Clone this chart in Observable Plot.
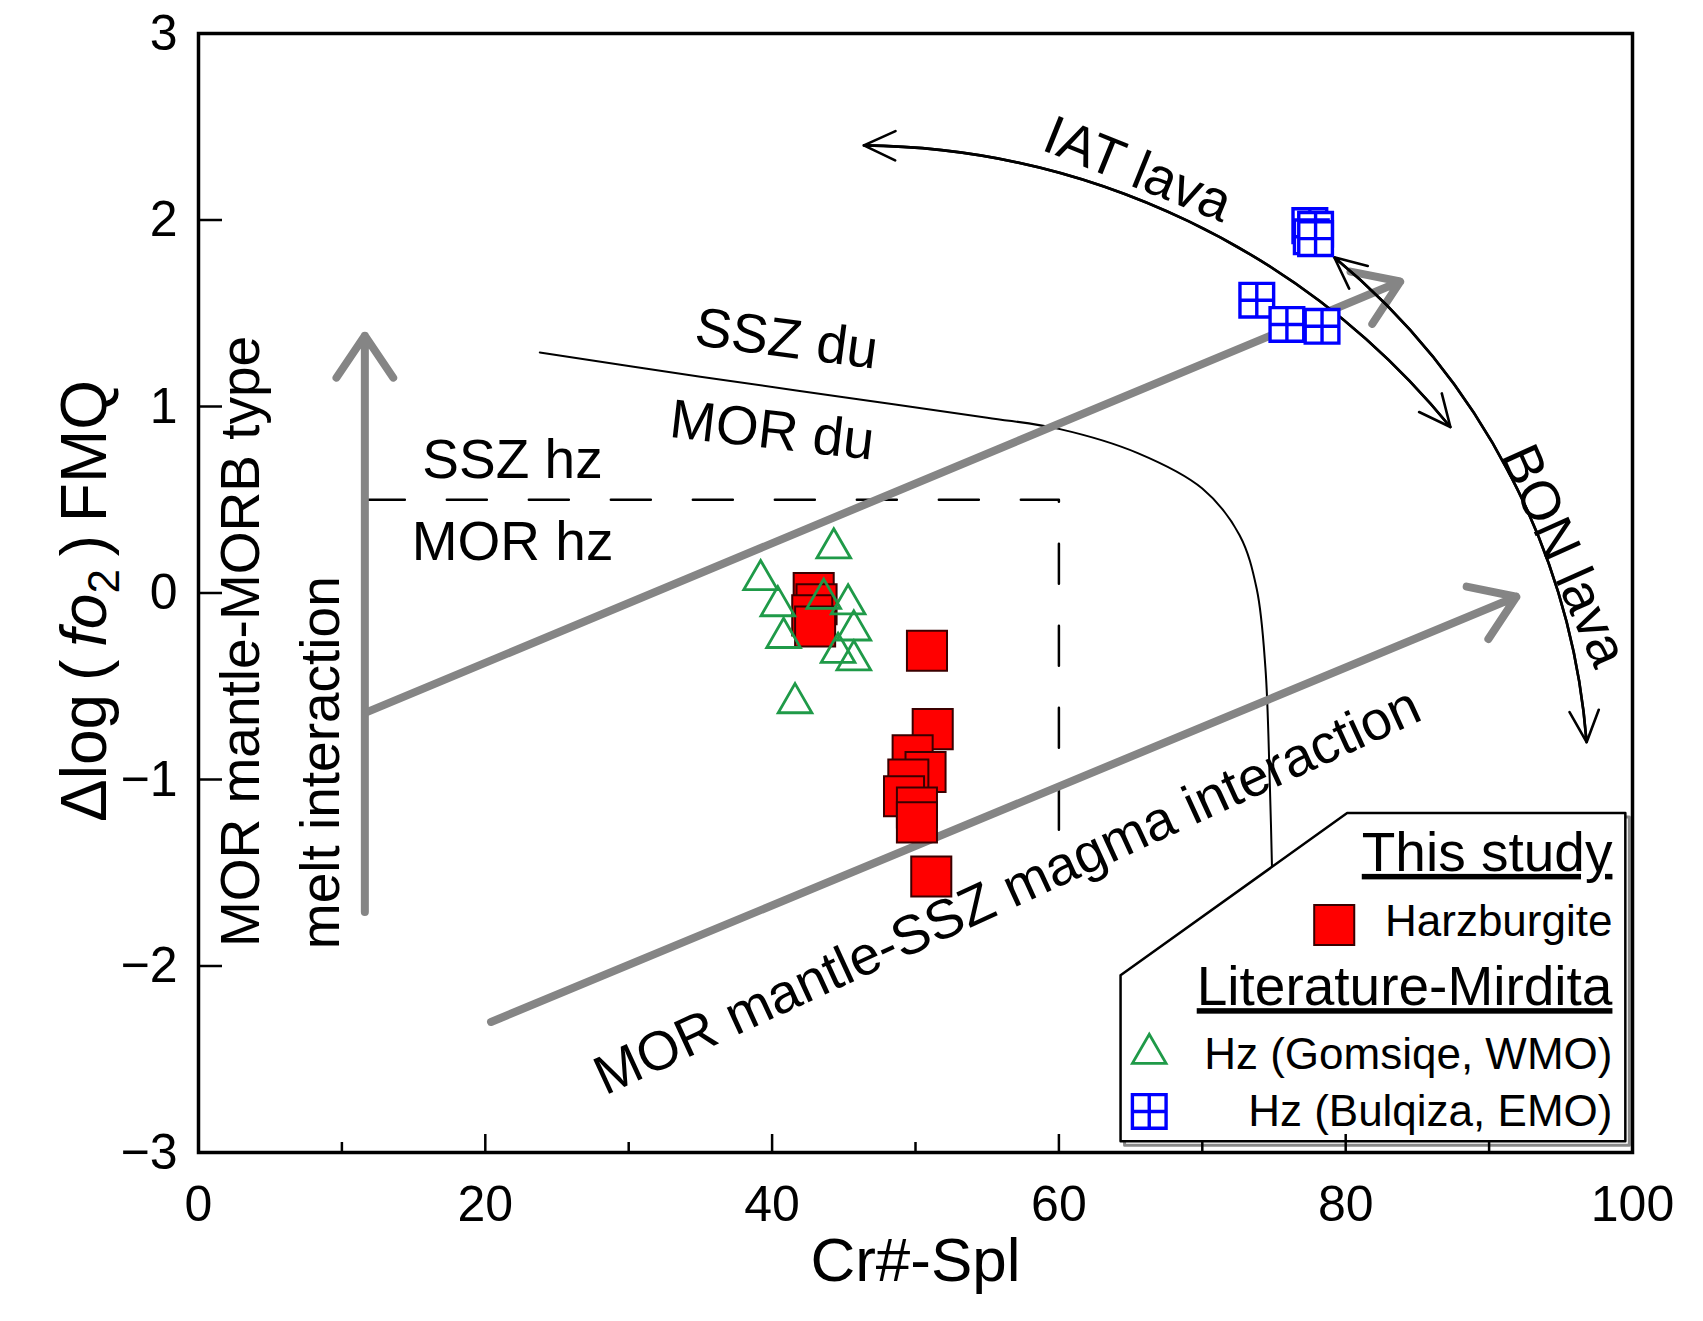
<!DOCTYPE html>
<html><head><meta charset="utf-8">
<script src="https://cdn.jsdelivr.net/npm/d3@7"></script>
<script src="https://cdn.jsdelivr.net/npm/@observablehq/plot@0.6"></script>
<style>body{margin:0;background:#fff} svg{display:block}</style>
</head><body><div id="chart"></div>
<script>
// ---- axes ----
const xTicks = [0, 20, 40, 60, 80, 100];
const xMajorInner = [20, 40, 60, 80];
const xMinorInner = [10, 30, 50, 70, 90];
const yTicks = [-3, -2, -1, 0, 1, 2, 3];
const yInner = [-2, -1, 0, 1, 2];
const xTitle = "Cr#-Spl";
const yTitle = "Δlog(fo₂)FMQ";

// ---- data: This study, harzburgite ----
const harzX = [42.9, 43.1, 42.8, 43.0, 50.8, 51.2, 49.8, 50.7, 49.5, 49.2, 50.1, 50.1, 51.1];
const harzY = [0.00, -0.06, -0.12, -0.18, -0.31, -0.73, -0.87, -0.96, -1.00, -1.09, -1.15, -1.23, -1.52];
// ---- Literature: Hz (Gomsiqe, WMO) ----
const gomX = [44.3, 39.2, 40.4, 43.6, 45.3, 45.7, 40.8, 44.6, 45.7, 41.6];
const gomY = [0.24, 0.07, -0.07, -0.03, -0.06, -0.20, -0.24, -0.32, -0.36, -0.59];
// ---- Literature: Hz (Bulqiza, EMO) ----
const bulX = [77.5, 77.9, 77.6, 77.9, 73.8, 75.9, 78.35];
const bulY = [1.97, 1.95, 1.91, 1.90, 1.57, 1.44, 1.43];

// ---- SSZ du / MOR du boundary ----
const duX = [23.8, 35, 45, 55, 60, 65.5, 70.0, 72.6, 73.8, 74.4, 74.7, 74.9];
const duY = [1.29, 1.16, 1.05, 0.94, 0.88, 0.75, 0.56, 0.31, 0.02, -0.40, -1.00, -1.60];
// ---- SSZ hz / MOR hz boundary (dashed) ----
const hzX = [11.6, 60, 60];
const hzY = [0.5, 0.5, -1.3];
// ---- interaction trends (gray arrows) ----
const trendX1 = [11.6, 11.7, 20.4];
const trendY1 = [-1.71, -0.64, -2.30];
const trendX2 = [11.6, 83.8, 91.9];
const trendY2 = [1.38, 1.67, -0.02];
// ---- lava arcs: IAT, BON ----
const iatArc = {x1: 46.4, y1: 2.40, x2: 87.3, y2: 0.89, bend: 25};
const bonArc = {x1: 79.2, y1: 1.80, x2: 96.8, y2: -0.80, bend: 23};

// ---- annotation labels ----
const labelText = ["IAT lava", "BON lava", "SSZ du", "MOR du", "SSZ hz", "MOR hz",
  "MOR mantle-MORB type", "melt interaction", "MOR mantle-SSZ magma interaction"];
const labelX = [65.5, 95.2, 41.0, 40.0, 21.9, 21.9, 3.0, 8.6, 56.4];
const labelY = [2.27, 0.20, 1.36, 0.87, 0.71, 0.27, -0.26, -0.91, -1.60];
const labelAngle = [22, 66, 7.5, 6.5, 0, 0, -90, -90, -24.7];

// ---- legend ----
const legendBoxX = [64.3, 80.1, 99.5, 99.5, 64.3, 64.3];
const legendBoxY = [-2.05, -1.18, -1.18, -2.94, -2.94, -2.05];
const legendHeads = ["This study", "Literature-Mirdita"];
const legendHeadY = [-1.49, -2.21];
const legendEntries = ["Harzburgite", "Hz (Gomsiqe, WMO)", "Hz (Bulqiza, EMO)"];
const legendEntryY = [-1.84, -2.55, -2.86];
const legendTextX = 98.6;
const legendMarkX = [79.2, 66.3, 66.3];
const legendMarkY = [-1.78, -2.47, -2.78];

const squarePlus = {
  draw(context, size) {
    const s = Math.sqrt(size) / 2;
    context.moveTo(-s, -s); context.lineTo(s, -s); context.lineTo(s, s); context.lineTo(-s, s); context.closePath();
    context.moveTo(-s, 0); context.lineTo(s, 0);
    context.moveTo(0, -s); context.lineTo(0, s);
  }
};

const FONT = "'Liberation Sans', Arial, Helvetica, sans-serif";
const RED = "#ff0000", GREEN = "#1f9a48", BLUE = "#0000ff", GRAY = "#858585";

const idx = (a) => d3.range(a.length);

function lavaArrows(a) {
  const style = {stroke: "black", strokeWidth: 2.6, headLength: 20, headAngle: 50, strokeLinejoin: "miter"};
  return [
    Plot.arrow([a], {x1: "x1", y1: "y1", x2: "x2", y2: "y2", bend: a.bend, ...style}),
    Plot.arrow([a], {x1: "x2", y1: "y2", x2: "x1", y2: "y1", bend: -a.bend, ...style})
  ];
}

const chart = Plot.plot({
  width: 1703,
  height: 1321,
  marginLeft: 198,
  marginRight: 71,
  marginTop: 33,
  marginBottom: 169,
  x: {domain: [0, 100]},
  y: {domain: [-3, 3]},
  style: {fontFamily: FONT, fontSize: "50px", background: "white", color: "black"},
  marks: [
    // boundaries
    Plot.line(idx(duX), {x: i => duX[i], y: i => duY[i], curve: "catmull-rom", stroke: "black", strokeWidth: 2}),
    Plot.line(idx(hzX), {x: i => hzX[i], y: i => hzY[i], stroke: "black", strokeWidth: 2.5, strokeDasharray: "40,42"}),
    // gray trend arrows
    Plot.arrow(idx(trendX1), {x1: i => trendX1[i], y1: i => trendY1[i], x2: i => trendX2[i], y2: i => trendY2[i],
      stroke: GRAY, strokeWidth: 8, headLength: 9.5, headAngle: 68}),
    // lava arcs (double headed)
    ...lavaArrows(iatArc),
    ...lavaArrows(bonArc),
    // labels
    Plot.text(idx(labelText), {x: i => labelX[i], y: i => labelY[i], text: i => labelText[i], rotate: i => labelAngle[i],
      fontSize: 55, fill: "black", textAnchor: "middle", lineAnchor: "middle"}),
    // data
    Plot.dot(idx(harzX), {x: i => harzX[i], y: i => harzY[i], symbol: "square", r: 22.6, fill: RED, stroke: "#3a0000", strokeWidth: 2}),
    Plot.dot(idx(gomX), {x: i => gomX[i], y: i => gomY[i], symbol: "triangle", r: 12.5, fill: "none", stroke: GREEN, strokeWidth: 2.8}),
    Plot.dot(idx(bulX), {x: i => bulX[i], y: i => bulY[i], symbol: squarePlus, r: 19, fill: "white", stroke: BLUE, strokeWidth: 3.4}),
    // legend
    Plot.line(idx(legendBoxX), {x: i => legendBoxX[i], y: i => legendBoxY[i], stroke: "#8a8a8a", strokeWidth: 3, dx: 4, dy: 4}),
    Plot.line(idx(legendBoxX), {x: i => legendBoxX[i], y: i => legendBoxY[i], stroke: "black", strokeWidth: 2.5, fill: "white"}),
    Plot.text(idx(legendHeads), {x: legendTextX, y: i => legendHeadY[i], text: i => legendHeads[i], fontSize: 55,
      textAnchor: "end", lineAnchor: "bottom", fill: "black"}),
    Plot.text(idx(legendEntries), {x: legendTextX, y: i => legendEntryY[i], text: i => legendEntries[i], fontSize: 44,
      textAnchor: "end", lineAnchor: "bottom", fill: "black"}),
    Plot.dot([0], {x: legendMarkX[0], y: legendMarkY[0], symbol: "square", r: 22.6, fill: RED, stroke: "#3a0000", strokeWidth: 2}),
    Plot.dot([1], {x: legendMarkX[1], y: legendMarkY[1], symbol: "triangle", r: 12.5, fill: "none", stroke: GREEN, strokeWidth: 2.8}),
    Plot.dot([2], {x: legendMarkX[2], y: legendMarkY[2], symbol: squarePlus, r: 19, fill: "white", stroke: BLUE, strokeWidth: 3.4}),
    // axes
    Plot.axisX({ticks: xTicks, tickSize: 0, tickPadding: 33, label: null, fontSize: 50}),
    Plot.axisY({ticks: yTicks, tickSize: 0, tickPadding: 21, label: null, fontSize: 50,
      tickFormat: d => d < 0 ? "\u2212" + (-d) : String(d)}),
    Plot.ruleX(xMajorInner, {x: d => d, y1: -3, y2: -3, insetTop: -18, stroke: "black", strokeWidth: 2.5}),
    Plot.ruleX(xMinorInner, {x: d => d, y1: -3, y2: -3, insetTop: -10, stroke: "black", strokeWidth: 2.5}),
    Plot.ruleY(yInner, {y: d => d, x1: 0, x2: 0, insetRight: -24, stroke: "black", strokeWidth: 2.5}),
    Plot.text([xTitle], {frameAnchor: "bottom", dy: 109, fontSize: 62, lineAnchor: "middle", fill: "black"}),
    Plot.text([yTitle], {frameAnchor: "left", dx: -113, dy: 8, rotate: -90, fontSize: 64, lineAnchor: "middle", fill: "black"}),
    Plot.frame({stroke: "black", strokeWidth: 3.5})
  ]
});

document.getElementById("chart").appendChild(chart);

const svg = d3.select(chart);
svg.selectAll("text").filter(function () { return legendHeads.includes(this.textContent); })
  .style("text-decoration", "underline");
svg.selectAll("text").filter(function () { return this.textContent === yTitle; }).each(function () {
  const t = d3.select(this);
  t.text(null);
  t.append("tspan").text("Δlog\u2009(\u2009");
  t.append("tspan").attr("font-style", "italic").text("fo");
  t.append("tspan").attr("font-size", "44").attr("dy", "13").text("2");
  t.append("tspan").attr("dy", "-13").text("\u2009)\u2009FMQ");
  const len = this.getComputedTextLength();
  t.attr("text-anchor", "start").attr("x", -len / 2);
});
</script>
</body></html>
